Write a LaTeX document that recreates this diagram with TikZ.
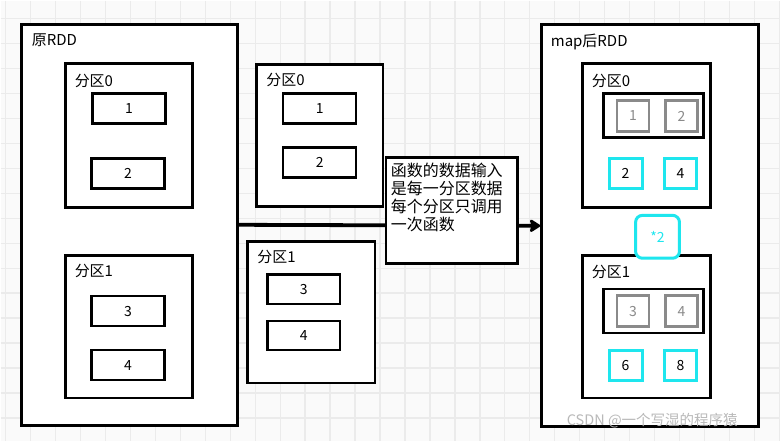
\documentclass[tikz,border=0pt]{standalone}
\usepackage{fontspec}
\setmainfont{Noto Sans CJK SC}
\usetikzlibrary{arrows.meta}
\definecolor{gridcol}{HTML}{EBEBEB}
\definecolor{bgcol}{HTML}{FAFAFA}
\definecolor{aqua}{HTML}{1EE6EE}
\definecolor{greybox}{HTML}{8A8A8A}
\tikzset{
  rdd/.style={draw,fill=white,line width=3pt,inner sep=0pt},
  part/.style={draw,fill=white,line width=2.6pt,inner sep=0pt},
  elem/.style={draw,fill=white,line width=2.6pt,minimum width=73pt,minimum height=30pt,inner sep=0pt,font=\fontsize{14}{16}\selectfont},
  grey/.style={draw=greybox,fill=white,line width=2.4pt,minimum width=32pt,minimum height=31pt,inner sep=0pt,text=greybox,font=\fontsize{14}{16}\selectfont},
  result/.style={draw=aqua,fill=white,line width=3pt,minimum width=33pt,minimum height=30pt,inner sep=0pt,font=\fontsize{14}{16}\selectfont},
  lbl/.style={anchor=west,inner sep=0pt,font=\fontsize{15}{17}\selectfont},
}
\begin{document}
\begin{tikzpicture}[x=1pt,y=-1pt]
\fill[bgcol] (0,0) rectangle (781,441);
\foreach \x in {5,30,...,780} \draw[gridcol,line width=1.4pt] (\x,0) -- (\x,441);
\foreach \y in {18,43,...,440} \draw[gridcol,line width=1.4pt] (0,\y) -- (781,\y);
% original RDD
\draw (129,224.5) node[rdd,minimum width=216pt,minimum height=402pt](orig) {};
\draw (31,40) node[lbl](origlbl) {原RDD};
\draw (128.5,135) node[part,minimum width=127pt,minimum height=144pt](lp0) {};
\draw (74,80) node[lbl](lp0lbl) {分区0};
\draw (128.5,108) node[elem](l1) {1};
\draw (127.5,173) node[elem](l2) {2};
\draw (128.5,326.5) node[part,minimum width=127pt,minimum height=143pt](lp1) {};
\draw (74,271) node[lbl](lp1lbl) {分区1};
\draw (127.5,311) node[elem](l3) {3};
\draw (127.5,365) node[elem](l4) {4};
% partitions handed to the function
\draw (319.5,135) node[part,minimum width=127pt,minimum height=142pt](mp0) {};
\draw (266,79) node[lbl](mp0lbl) {分区0};
\draw (319.5,108) node[elem](m1) {1};
\draw (319.5,162) node[elem](m2) {2};
\draw (311,312) node[part,minimum width=128pt,minimum height=142pt](mp1) {};
\draw (257,257) node[lbl](mp1lbl) {分区1};
\draw (303.5,289) node[elem](m3) {3};
\draw (303.5,335.5) node[elem,minimum height=29pt](m4) {4};
% mapped RDD
\draw (650.5,225.5) node[rdd,minimum width=217pt,minimum height=403pt](mapped) {};
\draw (551,41) node[lbl](mappedlbl) {map后RDD};
\draw (647,135) node[part,minimum width=128pt,minimum height=144pt](rp0) {};
\draw (592,80) node[lbl](rp0lbl) {分区0};
\draw (654,115) node[part,minimum width=100pt,minimum height=44pt](rg0) {};
\draw (633.5,115.5) node[grey](g1) {1};
\draw (682,115.5) node[grey](g2) {2};
\draw (626,173) node[result](c2) {2};
\draw (681,173) node[result](c4) {4};
\draw (647,326.5) node[part,minimum width=128pt,minimum height=143pt](rp1) {};
\draw (592,272) node[lbl](rp1lbl) {分区1};
\draw (654,311) node[part,minimum width=100pt,minimum height=44pt](rg1) {};
\draw (633.5,311) node[grey](g3) {3};
\draw (682,311) node[grey](g4) {4};
\draw (626,365) node[result](c6) {6};
\draw (681,365) node[result](c8) {8};
\draw (658,236.5) node[draw=aqua,fill=white,line width=3pt,rounded corners=7pt,minimum width=44pt,minimum height=43pt,inner sep=0pt,text=aqua,font=\fontsize{14}{16}\selectfont](times) {*2};
% map arrow
\draw[line width=3.8pt,-{Stealth[length=12pt,width=15pt,inset=2pt,round]}] (orig.east) -- (mapped.west);
\draw (452,210) node[draw,fill=white,line width=2.6pt,minimum width=132pt,minimum height=106pt,inner sep=0pt](fn) {};
\draw (fn.north west) ++(6,7) node[anchor=north west,inner sep=0pt,align=left,font=\fontsize{16}{18}\selectfont](fntext) {函数的数据输入\\是每一分区数据\\每个分区只调用\\一次函数};
\draw (567,421) node[lbl,text=gray!55,font=\fontsize{14.5}{16}\selectfont](mark) {CSDN @一个写湿的程序猿};
\end{tikzpicture}
\end{document}
